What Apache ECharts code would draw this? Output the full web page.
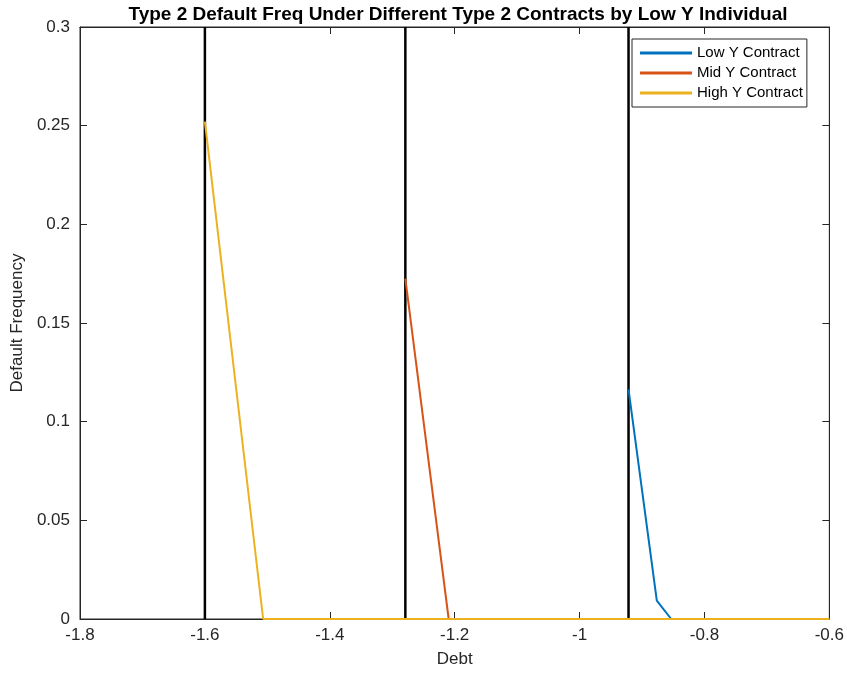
<!DOCTYPE html>
<html>
<head>
    <meta charset="UTF-8">
    <title>Type 2 Default Freq</title>
    <script src="https://cdn.jsdelivr.net/npm/echarts@6/dist/echarts.min.js"></script>
</head>
<body style="margin:0;">
    <div id="main" style="width: 847px;height:673px;"></div>
    <script>
        // data
        var lowX = [-0.9216, -0.8763, -0.8533, -0.6];
        var lowY = [0.1164, 0.0093, 0, 0];
        var midX = [-1.279, -1.2096, -0.6];
        var midY = [0.1725, 0, 0];
        var highX = [-1.6, -1.5067, -0.6];
        var highY = [0.252, 0, 0];
        var cutoffs = [-1.6, -1.279, -0.9216];
        var seriesNames = ['Low Y Contract', 'Mid Y Contract', 'High Y Contract'];
        var colors = ['#0072BD', '#D95319', '#EDB120'];

        function pairs(xs, ys) {
            var out = [];
            for (var i = 0; i < xs.length; i++) out.push([xs[i], ys[i]]);
            return out;
        }

        var font = 'Liberation Sans, Arial, Helvetica, sans-serif';
        var axisCol = '#262626';

        var series = [];
        var allX = [lowX, midX, highX];
        var allY = [lowY, midY, highY];
        for (var s = 0; s < 3; s++) {
            series.push({
                name: seriesNames[s],
                type: 'line',
                data: pairs(allX[s], allY[s]),
                showSymbol: false,
                symbol: 'none',
                lineStyle: { color: colors[s], width: 2 },
                itemStyle: { color: colors[s] },
                z: 3 + s
            });
        }
        cutoffs.forEach(function (c) {
            series.push({
                name: 'cutoff',
                type: 'line',
                data: [[c, 0], [c, 0.3]],
                symbol: 'none',
                lineStyle: { color: '#000', width: 2.5 },
                z: 2,
                silent: true
            });
        });

        var chart = echarts.init(document.getElementById('main'));
        chart.setOption({
            animation: false,
            backgroundColor: '#fff',
            title: {
                text: 'Type 2 Default Freq Under Different Type 2 Contracts by Low Y Individual',
                left: 453, top: 0, textAlign: 'center',
                textStyle: { fontFamily: font, fontSize: 19, fontWeight: 'bold', color: '#000' }
            },
            legend: {
                data: seriesNames,
                orient: 'vertical',
                left: 632, top: 39,
                itemWidth: 52, itemHeight: 3, itemGap: 4,
                icon: 'rect',
                backgroundColor: '#fff',
                borderColor: axisCol, borderWidth: 1, borderRadius: 0,
                padding: [6, 4, 6, 8],
                textStyle: { fontFamily: font, fontSize: 15, color: '#000', lineHeight: 16 }
            },
            grid: { left: 80, right: 17, top: 27, bottom: 53, show: true, borderColor: axisCol, borderWidth: 1, backgroundColor: 'transparent' },
            xAxis: [{
                type: 'value', min: -1.8, max: -0.6, interval: 0.2,
                name: 'Debt', nameLocation: 'middle', nameGap: 32,
                nameTextStyle: { fontFamily: font, fontSize: 17, color: '#262626' },
                axisLine: { show: true, onZero: false, lineStyle: { color: axisCol } },
                axisTick: { show: true, inside: true, length: 7, lineStyle: { color: axisCol } },
                axisLabel: { fontFamily: font, fontSize: 17, color: '#262626', margin: 8,
                    formatter: function (v) { return (Math.round(v * 10) / 10).toString(); } },
                splitLine: { show: false }
            }, {
                type: 'value', min: -1.8, max: -0.6, interval: 0.2, position: 'top',
                axisLine: { show: true, onZero: false, lineStyle: { color: axisCol } },
                axisTick: { show: true, inside: true, length: 7, lineStyle: { color: axisCol } },
                axisLabel: { show: false }, splitLine: { show: false }
            }],
            yAxis: [{
                type: 'value', min: 0, max: 0.3, interval: 0.05,
                name: 'Default Frequency', nameLocation: 'middle', nameGap: 49,
                nameTextStyle: { fontFamily: font, fontSize: 17, color: '#262626' },
                axisLine: { show: true, onZero: false, lineStyle: { color: axisCol } },
                axisTick: { show: true, inside: true, length: 7, lineStyle: { color: axisCol } },
                axisLabel: { fontFamily: font, fontSize: 17, color: '#262626', margin: 10,
                    formatter: function (v) { return (Math.round(v * 100) / 100).toString(); } },
                splitLine: { show: false }
            }, {
                type: 'value', min: 0, max: 0.3, interval: 0.05, position: 'right',
                axisLine: { show: true, onZero: false, lineStyle: { color: axisCol } },
                axisTick: { show: true, inside: true, length: 7, lineStyle: { color: axisCol } },
                axisLabel: { show: false }, splitLine: { show: false }
            }],
            series: series
        });
    </script>
</body>
</html>
